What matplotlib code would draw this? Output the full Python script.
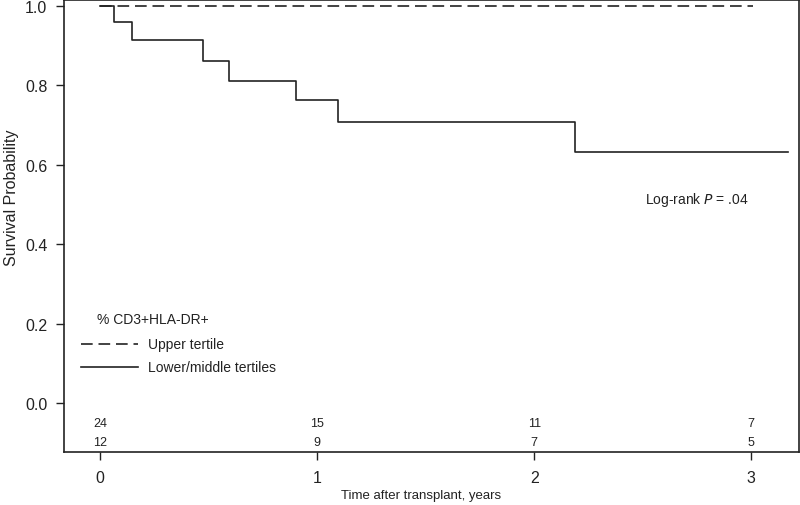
import matplotlib
matplotlib.use("Agg")
import matplotlib.pyplot as plt

plt.rcParams['font.family'] = ['Liberation Sans', 'DejaVu Sans']

# Kaplan-Meier step data
lower_times = [0.0, 0.065, 0.148, 0.475, 0.596, 0.903, 1.094, 2.19, 3.17]
lower_surv = [1.0, 0.96, 0.914, 0.862, 0.812, 0.762, 0.709, 0.632, 0.632]
upper_times = [0.0, 3.01]
upper_surv = [1.0, 1.0]

risk_times = [0, 1, 2, 3]
risk_lower = [24, 15, 11, 7]
risk_upper = [12, 9, 7, 5]

x_ticks = [0, 1, 2, 3]
y_ticks = [0.0, 0.2, 0.4, 0.6, 0.8, 1.0]

col = '#222222'
fig = plt.figure(figsize=(8, 5.06), dpi=100)
ax = fig.add_axes([64/800, 1 - 453/506, (799-64)/800, (453-1)/506])

ax.step(upper_times, upper_surv, where='post', color=col, lw=1.2,
        dashes=(7, 3.5))
ax.step(lower_times, lower_surv, where='post', color=col, lw=1.2)

ax.set_xlim(-0.166, 3.22)
ax.set_ylim(-0.123, 1.015)
ax.set_xticks(x_ticks)
ax.set_yticks(y_ticks)
ax.set_yticklabels([f"{v:.1f}" for v in y_ticks])
ax.tick_params(direction='out', length=6, width=1, colors=col,
               labelsize=11.5, pad=6)
ax.tick_params(axis='x', pad=7)
for s in ax.spines.values():
    s.set_color(col)
    s.set_linewidth(1.2)

for t, a, b in zip(risk_times, risk_lower, risk_upper):
    ax.text(t, -0.05, str(a), ha='center', va='center', fontsize=9, color=col)
    ax.text(t, -0.098, str(b), ha='center', va='center', fontsize=9, color=col)

ax.text(2.51, 0.514, 'Log-rank $\\it{P}$ = .04', ha='left', va='center',
        fontsize=10, color=col, math_fontfamily='dejavusans')

# legend (manual)
ax.text(-0.015, 0.213, '% CD3+HLA-DR+', ha='left', va='center', fontsize=10, color=col)
ax.plot([-0.088, 0.175], [0.15, 0.15], color=col, lw=1.2, dashes=(7, 3.5))
ax.text(0.222, 0.15, 'Upper tertile', ha='left', va='center', fontsize=10, color=col)
ax.plot([-0.088, 0.175], [0.091, 0.091], color=col, lw=1.2)
ax.text(0.222, 0.091, 'Lower/middle tertiles', ha='left', va='center', fontsize=10, color=col)

fig.text(421/800, 1 - 496/506, 'Time after transplant, years', ha='center',
         va='center', fontsize=9.5, color=col)
fig.text(12/800, 1 - 198/506, 'Survival Probability', ha='center', va='center',
         rotation=90, fontsize=11.5, color=col)

fig.savefig('out.png', dpi=100)
